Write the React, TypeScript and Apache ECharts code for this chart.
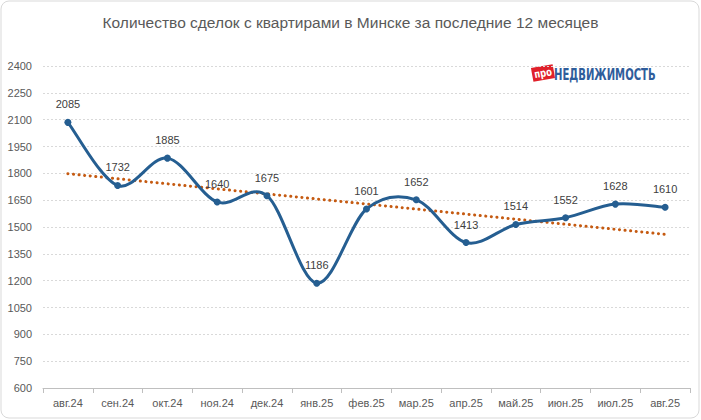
import React, { useEffect, useRef } from "react";
import * as echarts from "echarts";

const categories = ["авг.24", "сен.24", "окт.24", "ноя.24", "дек.24", "янв.25", "фев.25", "мар.25", "апр.25", "май.25", "июн.25", "июл.25", "авг.25"];
const deals = [2085, 1732, 1885, 1640, 1675, 1186, 1601, 1652, 1413, 1514, 1552, 1628, 1610];
const trendStart = 1798;
const trendEnd = 1459;
const titleText = "Количество сделок с квартирами в Минске за последние 12 месяцев";

export default function App() {
  const ref = useRef<HTMLDivElement>(null);
  useEffect(() => {
    document.body.style.margin = "0";
    const chart = echarts.init(ref.current!, null, { renderer: "svg" });
    const trend = categories.map((_, i) => (i === 0 ? trendStart : i === categories.length - 1 ? trendEnd : null));
    const curveData = deals.map((v, i) => [i, v]);
    chart.setOption({
      animation: false,
      backgroundColor: "#ffffff",
      title: {
        text: titleText,
        left: "center",
        top: 9,
        textStyle: { fontFamily: "Liberation Sans", fontSize: 15.5, fontWeight: "normal", color: "#595959" },
      },
      grid: { left: 43, right: 11, top: 66, bottom: 32 },
      xAxis: {
        type: "category",
        data: categories,
        boundaryGap: true,
        axisLine: { lineStyle: { color: "#BFBFBF" } },
        axisTick: { show: true, length: 5, lineStyle: { color: "#BFBFBF" } },
        axisLabel: { color: "#595959", fontSize: 11, fontFamily: "Liberation Sans", margin: 9 },
      },
      yAxis: {
        type: "value",
        min: 600,
        max: 2400,
        interval: 150,
        axisLine: { show: false },
        axisTick: { show: false },
        axisLabel: {
          color: "#595959",
          fontSize: 11,
          fontFamily: "Liberation Sans",
          margin: 11,
          formatter: (v: number) => String(v),
        },
        splitLine: { lineStyle: { color: "#D9D9D9", type: [2, 2] } },
      },
      series: [
        {
          type: "line",
          data: trend,
          connectNulls: true,
          symbol: "none",
          lineStyle: { color: "#C55A11", width: 3, type: [0.1, 5.5], cap: "round" },
          z: 3,
          silent: true,
        },
        {
          type: "custom",
          data: curveData,
          encode: { x: 0, y: 1 },
          z: 4,
          silent: true,
          renderItem: (params: any, api: any) => {
            if (params.dataIndex !== 0) return null;
            const pts = curveData.map((d) => api.coord(d));
            const n = pts.length;
            let d = `M${pts[0][0]},${pts[0][1]}`;
            for (let i = 0; i < n - 1; i++) {
              const p0 = pts[Math.max(i - 1, 0)];
              const p1 = pts[i];
              const p2 = pts[i + 1];
              const p3 = pts[Math.min(i + 2, n - 1)];
              const c1x = p1[0] + (p2[0] - p0[0]) / 6;
              const c1y = p1[1] + (p2[1] - p0[1]) / 6;
              const c2x = p2[0] - (p3[0] - p1[0]) / 6;
              const c2y = p2[1] - (p3[1] - p1[1]) / 6;
              d += ` C${c1x},${c1y} ${c2x},${c2y} ${p2[0]},${p2[1]}`;
            }
            return {
              type: "path",
              shape: { pathData: d },
              style: { fill: "none", stroke: "#255E91", lineWidth: 3, lineJoin: "round" },
            };
          },
        },
        {
          type: "line",
          data: deals,
          symbol: "circle",
          symbolSize: 7,
          itemStyle: { color: "#255E91" },
          lineStyle: { width: 0, opacity: 0 },
          label: {
            show: true,
            position: "top",
            distance: 9,
            color: "#404040",
            fontSize: 11,
            fontFamily: "Liberation Sans",
          },
          z: 5,
        },
      ],
      graphic: [
        {
          type: "rect",
          shape: { x: 1, y: 1, width: 698, height: 417, r: 8 },
          style: { fill: "none", stroke: "#D9D9D9", lineWidth: 1 },
          silent: true,
        },
        {
          type: "group",
          x: 532,
          y: 65,
          children: [
            {
              type: "rect",
              x: 11,
              y: 8,
              rotation: 0.18,
              shape: { x: -11, y: -7, width: 22, height: 14 },
              style: { fill: "#E0202A" },
            },
            {
              type: "text",
              x: 11,
              y: 8,
              rotation: 0.18,
              scaleX: 0.85,
              style: {
                text: "про",
                fill: "#ffffff",
                font: "bold 11px 'DejaVu Sans Condensed'",
                align: "center",
                verticalAlign: "middle",
              },
            },
            {
              type: "text",
              x: 22,
              y: 9,
              scaleX: 0.7,
              style: {
                text: "НЕДВИЖИМОСТЬ",
                fill: "#2F5D9B",
                font: "bold 16px 'DejaVu Sans Condensed'",
                align: "left",
                verticalAlign: "middle",
              },
            },
          ],
        },
      ],
    });
    return () => chart.dispose();
  }, []);
  return <div ref={ref} style={{ width: 701, height: 420, position: "absolute", left: 0, top: 0 }} />;
}
